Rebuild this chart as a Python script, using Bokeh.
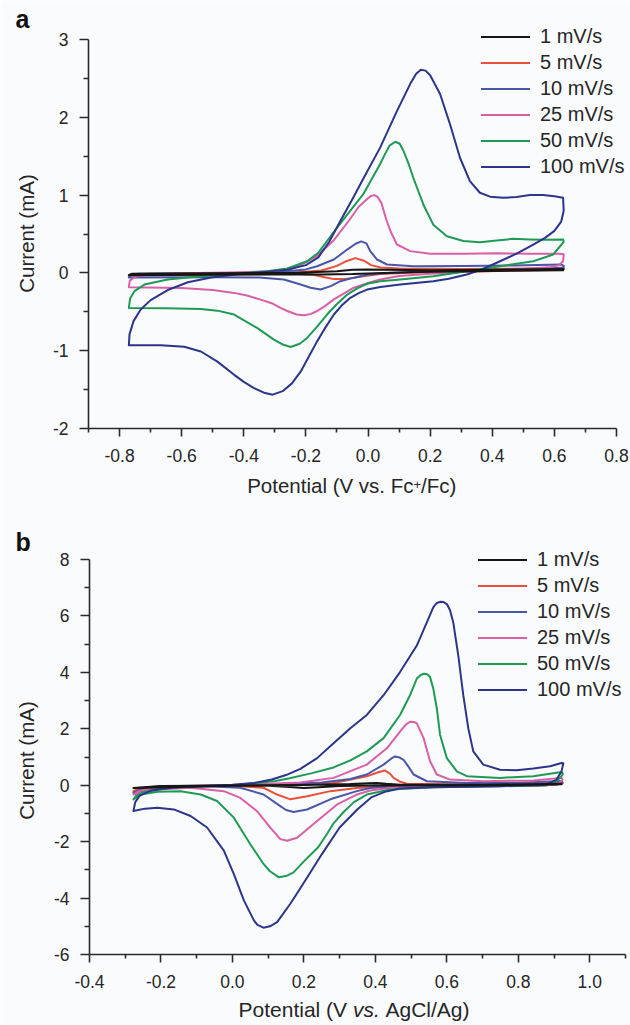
import math
from bokeh.plotting import figure
from bokeh.models import (FixedTicker, Legend, LegendItem, Label, Range1d,
                          PrintfTickFormatter)
from bokeh.layouts import column
from bokeh.embed import file_html
from bokeh.resources import INLINE

# ---------------- data ----------------
RATES = ["1 mV/s", "5 mV/s", "10 mV/s", "25 mV/s", "50 mV/s", "100 mV/s"]
COLORS = ["#161616", "#e8503a", "#4a57a8", "#d95fa6", "#1f9a55", "#2c3589"]

# Panel a  (potential V vs Fc+/Fc, current mA); loops: forward scan then reverse scan
A1_X = [-0.770, -0.760, -0.500, -0.250, -0.100, -0.050, 0.000, 0.050, 0.200, 0.400, 0.630,
        0.628, 0.400, 0.200, 0.050, -0.050, -0.150, -0.400, -0.770]
A1_Y = [-0.030, -0.010, -0.005, 0.000, 0.020, 0.040, 0.045, 0.040, 0.035, 0.040, 0.050,
        0.035, 0.025, 0.015, 0.000, -0.015, -0.020, -0.020, -0.030]

A5_X = [-0.770, -0.760, -0.600, -0.400, -0.250, -0.150, -0.100, -0.070, -0.041, -0.015, 0.010,
        0.040, 0.100, 0.300, 0.500, 0.630,
        0.628, 0.500, 0.300, 0.150, 0.039, -0.010, -0.046, -0.080, -0.110, -0.140, -0.175,
        -0.239, -0.400, -0.600, -0.770]
A5_Y = [-0.030, -0.015, -0.010, -0.005, 0.000, 0.030, 0.090, 0.150, 0.190, 0.160, 0.100,
        0.070, 0.055, 0.050, 0.055, 0.065,
        0.040, 0.030, 0.015, 0.005, -0.013, -0.040, -0.064, -0.080, -0.080, -0.055, -0.025,
        -0.010, -0.020, -0.030, -0.030]

A10_X = [-0.770, -0.765, -0.740, -0.600, -0.400, -0.260, -0.200, -0.164, -0.110, -0.067, -0.040,
         -0.022, -0.005, 0.007, 0.029, 0.061, 0.146, 0.307, 0.468, 0.623, 0.630,
         0.628, 0.500, 0.300, 0.150, 0.050, 0.000, -0.025, -0.060, -0.089, -0.120, -0.153,
         -0.185, -0.217, -0.271, -0.350, -0.500, -0.770]
A10_Y = [-0.060, -0.025, -0.010, -0.005, 0.000, 0.020, 0.045, 0.086, 0.172, 0.300, 0.375,
         0.405, 0.380, 0.280, 0.172, 0.108, 0.086, 0.090, 0.095, 0.108, 0.090,
         0.065, 0.045, 0.030, 0.015, -0.005, -0.020, -0.043, -0.075, -0.107, -0.170, -0.214,
         -0.190, -0.150, -0.085, -0.060, -0.055, -0.060]

A25_X = [-0.770, -0.767, -0.750, -0.700, -0.600, -0.450, -0.320, -0.250, -0.217, -0.164, -0.110,
         -0.060, -0.030, 0.000, 0.010, 0.020, 0.030, 0.043, 0.060, 0.072, 0.093, 0.136, 0.200,
         0.307, 0.414, 0.521, 0.617, 0.630,
         0.628, 0.615, 0.590, 0.500, 0.400, 0.300, 0.200, 0.100, 0.039, 0.000, -0.046, -0.080,
         -0.110, -0.140, -0.164, -0.185, -0.207, -0.230, -0.260, -0.282, -0.310, -0.346, -0.390,
         -0.431, -0.500, -0.600, -0.770]
A25_Y = [-0.184, -0.100, -0.050, -0.020, -0.005, 0.005, 0.020, 0.050, 0.100, 0.220, 0.420,
         0.680, 0.850, 0.960, 0.990, 1.000, 0.980, 0.900, 0.670, 0.540, 0.365, 0.280, 0.245,
         0.245, 0.253, 0.245, 0.245, 0.240,
         0.150, 0.100, 0.075, 0.050, 0.030, 0.010, -0.010, -0.040, -0.085, -0.130, -0.190, -0.270,
         -0.340, -0.430, -0.490, -0.530, -0.545, -0.535, -0.490, -0.450, -0.390, -0.343, -0.290,
         -0.257, -0.220, -0.195, -0.184]

A50_X = [-0.770, -0.766, -0.752, -0.720, -0.645, -0.538, -0.431, -0.324, -0.260, -0.196, -0.160,
         -0.132, -0.100, -0.067, -0.014, 0.039, 0.055, 0.070, 0.088, 0.102, 0.114, 0.130, 0.146,
         0.178, 0.210, 0.254, 0.307, 0.360, 0.414, 0.468, 0.521, 0.575, 0.628,
         0.630, 0.623, 0.596, 0.532, 0.425, 0.318, 0.210, 0.104, 0.039, -0.003, -0.035, -0.067,
         -0.100, -0.132, -0.164, -0.196, -0.220, -0.249, -0.275, -0.303, -0.356, -0.431, -0.485,
         -0.538, -0.650, -0.770]
A50_Y = [-0.450, -0.330, -0.235, -0.150, -0.085, -0.043, -0.013, 0.022, 0.057, 0.150, 0.260,
         0.410, 0.580, 0.750, 1.020, 1.400, 1.530, 1.640, 1.686, 1.660, 1.570, 1.410, 1.220,
         0.880, 0.620, 0.470, 0.410, 0.395, 0.417, 0.438, 0.430, 0.425, 0.430,
         0.400, 0.365, 0.236, 0.150, 0.086, 0.020, -0.043, -0.085, -0.107, -0.140, -0.200, -0.278,
         -0.400, -0.535, -0.690, -0.836, -0.910, -0.952, -0.920, -0.857, -0.710, -0.535, -0.485,
         -0.465, -0.455, -0.450]

A100_X = [-0.770, -0.768, -0.755, -0.732, -0.700, -0.645, -0.580, -0.505, -0.430, -0.345, -0.260,
          -0.200, -0.160, -0.125, -0.090, -0.050, -0.014, 0.039, 0.093, 0.136, 0.155, 0.170,
          0.185, 0.200, 0.232, 0.264, 0.296, 0.328, 0.360, 0.393, 0.435, 0.478, 0.521, 0.564,
          0.600, 0.628,
          0.630, 0.622, 0.600, 0.570, 0.532, 0.480, 0.425, 0.370, 0.318, 0.260, 0.210, 0.104,
          0.040, -0.003, -0.030, -0.057, -0.085, -0.110, -0.140, -0.164, -0.190, -0.217, -0.245,
          -0.275, -0.307, -0.335, -0.367, -0.400, -0.431, -0.485, -0.538, -0.592, -0.667, -0.770]
A100_Y = [-0.930, -0.790, -0.620, -0.470, -0.350, -0.220, -0.120, -0.060, -0.020, 0.010, 0.040,
          0.100, 0.200, 0.400, 0.660, 0.950, 1.220, 1.610, 2.080, 2.430, 2.560, 2.610,
          2.600, 2.540, 2.300, 1.910, 1.480, 1.180, 1.030, 0.980, 0.965, 0.975, 1.000, 1.000,
          0.985, 0.965,
          0.800, 0.660, 0.540, 0.450, 0.365, 0.250, 0.150, 0.050, -0.020, -0.075, -0.107, -0.150,
          -0.180, -0.214, -0.260, -0.320, -0.420, -0.535, -0.720, -0.880, -1.070, -1.270, -1.420,
          -1.520, -1.565, -1.540, -1.480, -1.400, -1.310, -1.140, -1.010, -0.950, -0.930, -0.930]

# Panel b  (potential V vs AgCl/Ag, current mA)
B1_X = [-0.277, -0.200, 0.000, 0.200, 0.330, 0.380, 0.404, 0.430, 0.470, 0.700, 0.921,
        0.921, 0.700, 0.400, 0.300, 0.240, 0.200, 0.160, 0.100, 0.000, -0.277]
B1_Y = [-0.10, -0.03, -0.01, 0.01, 0.04, 0.07, 0.08, 0.05, 0.02, 0.02, 0.05,
        0.03, 0.00, -0.01, -0.03, -0.07, -0.10, -0.06, -0.02, -0.02, -0.10]

B5_X = [-0.277, -0.260, -0.200, 0.000, 0.150, 0.283, 0.376, 0.410, 0.427, 0.440, 0.451,
        0.470, 0.488, 0.600, 0.800, 0.921,
        0.924, 0.900, 0.700, 0.450, 0.348, 0.274, 0.209, 0.162, 0.125, 0.087, 0.000, -0.150,
        -0.277]
B5_Y = [-0.21, -0.10, -0.04, -0.01, 0.02, 0.08, 0.32, 0.47, 0.52, 0.42, 0.26,
        0.12, 0.05, 0.03, 0.04, 0.10,
        0.06, 0.01, -0.02, -0.03, -0.10, -0.21, -0.39, -0.50, -0.33, -0.09, -0.02, -0.05,
        -0.21]

B10_X = [-0.277, -0.250, -0.150, 0.000, 0.150, 0.250, 0.330, 0.376, 0.423, 0.445, 0.455,
         0.468, 0.479, 0.493, 0.507, 0.544, 0.656, 0.800, 0.921,
         0.924, 0.910, 0.850, 0.600, 0.450, 0.386, 0.348, 0.274, 0.209, 0.171, 0.150, 0.134,
         0.087, 0.022, -0.071, -0.210, -0.277]
B10_Y = [-0.27, -0.10, -0.03, 0.00, 0.05, 0.10, 0.22, 0.38, 0.73, 0.95, 1.02,
         0.98, 0.90, 0.65, 0.38, 0.14, 0.08, 0.09, 0.15,
         0.10, 0.03, -0.02, -0.03, -0.05, -0.10, -0.21, -0.50, -0.86, -0.95, -0.88, -0.74,
         -0.33, -0.09, -0.035, -0.07, -0.27]

B25_X = [-0.277, -0.260, -0.220, -0.100, 0.000, 0.100, 0.190, 0.283, 0.376, 0.432, 0.469,
         0.485, 0.497, 0.508, 0.516, 0.535, 0.553, 0.572, 0.609, 0.702, 0.842, 0.921,
         0.924, 0.915, 0.880, 0.750, 0.600, 0.450, 0.386, 0.348, 0.293, 0.237, 0.181, 0.153,
         0.134, 0.106, 0.069, 0.022, -0.024, -0.117, -0.210, -0.277]
B25_Y = [-0.33, -0.20, -0.10, -0.03, 0.00, 0.05, 0.10, 0.26, 0.73, 1.31, 1.90,
         2.15, 2.25, 2.24, 2.19, 1.67, 0.85, 0.38, 0.20, 0.14, 0.17, 0.26,
         0.20, 0.08, 0.00, -0.03, -0.04, -0.08, -0.19, -0.33, -0.68, -1.27, -1.86, -1.97,
         -1.91, -1.50, -0.92, -0.45, -0.21, -0.09, -0.15, -0.33]

B50_X = [-0.277, -0.270, -0.250, -0.200, -0.120, 0.000, 0.069, 0.120, 0.160, 0.220, 0.283,
         0.330, 0.376, 0.423, 0.469, 0.497, 0.516, 0.526, 0.535, 0.545, 0.553, 0.562, 0.572,
         0.581, 0.600, 0.628, 0.656, 0.749, 0.842, 0.921,
         0.925, 0.921, 0.907, 0.879, 0.749, 0.562, 0.441, 0.376, 0.340, 0.311, 0.283, 0.265,
         0.240, 0.200, 0.171, 0.150, 0.129, 0.105, 0.087, 0.050, 0.004, -0.043, -0.089, -0.145,
         -0.210, -0.257, -0.277]
B50_Y = [-0.50, -0.38, -0.25, -0.12, -0.05, 0.00, 0.08, 0.15, 0.25, 0.42, 0.63,
         0.88, 1.20, 1.67, 2.49, 3.19, 3.78, 3.90, 3.95, 3.93, 3.84, 3.43, 2.72,
         1.79, 0.96, 0.49, 0.32, 0.26, 0.32, 0.47,
         0.40, 0.32, 0.15, 0.00, -0.04, -0.07, -0.15, -0.33, -0.60, -0.95, -1.35, -1.72,
         -2.20, -2.70, -3.09, -3.22, -3.26, -3.05, -2.79, -2.09, -1.15, -0.56, -0.33, -0.21,
         -0.235, -0.33, -0.50]

B100_X = [-0.277, -0.272, -0.260, -0.230, -0.170, -0.080, 0.000, 0.060, 0.110, 0.150, 0.190,
          0.237, 0.283, 0.330, 0.376, 0.423, 0.469, 0.516, 0.544, 0.562, 0.571, 0.581, 0.591,
          0.600, 0.609, 0.618, 0.632, 0.646, 0.660, 0.674, 0.702, 0.749, 0.795, 0.842, 0.889,
          0.921,
          0.926, 0.921, 0.907, 0.879, 0.749, 0.562, 0.469, 0.430, 0.390, 0.350, 0.300, 0.250,
          0.210, 0.190, 0.162, 0.125, 0.105, 0.087, 0.070, 0.060, 0.032, 0.004, -0.024, -0.071,
          -0.117, -0.164, -0.210, -0.245, -0.277]
B100_Y = [-0.915, -0.60, -0.38, -0.20, -0.09, -0.03, 0.02, 0.08, 0.20, 0.36, 0.58,
          0.96, 1.49, 2.02, 2.49, 3.19, 4.01, 4.95, 5.77, 6.30, 6.45, 6.50, 6.49,
          6.42, 6.20, 5.77, 4.60, 3.19, 2.02, 1.20, 0.73, 0.55, 0.53, 0.59, 0.67,
          0.79,
          0.78, 0.49, 0.20, 0.02, -0.035, -0.07, -0.12, -0.22, -0.42, -0.85, -1.50, -2.45,
          -3.25, -3.65, -4.20, -4.85, -5.00, -5.05, -4.95, -4.79, -4.08, -3.15, -2.32, -1.50,
          -1.09, -0.857, -0.80, -0.83, -0.915]

A_SERIES = [(A1_X, A1_Y), (A5_X, A5_Y), (A10_X, A10_Y), (A25_X, A25_Y), (A50_X, A50_Y), (A100_X, A100_Y)]
B_SERIES = [(B1_X, B1_Y), (B5_X, B5_Y), (B10_X, B10_Y), (B25_X, B25_Y), (B50_X, B50_Y), (B100_X, B100_Y)]

A_XLIM = (-0.9, 0.8)
A_YLIM = (-2, 3)
A_XTICKS = [-0.8, -0.6, -0.4, -0.2, 0.0, 0.2, 0.4, 0.6, 0.8]
A_XMINOR = [-0.9, -0.7, -0.5, -0.3, -0.1, 0.1, 0.3, 0.5, 0.7]
A_YTICKS = [-2, -1, 0, 1, 2, 3]
A_YMINOR = [-1.5, -0.5, 0.5, 1.5, 2.5]
B_XLIM = (-0.4, 1.1)
B_YLIM = (-6, 8)
B_XTICKS = [-0.4, -0.2, 0.0, 0.2, 0.4, 0.6, 0.8, 1.0]
B_XMINOR = [-0.3, -0.1, 0.1, 0.3, 0.5, 0.7, 0.9, 1.1]
B_YTICKS = [-6, -4, -2, 0, 2, 4, 6, 8]
B_YMINOR = [-5, -3, -1, 1, 3, 5, 7]

FONT = "Liberation Sans"
TXT = "#262626"
BG = "#fafbfd"
ORDER = [1, 2, 3, 4, 5, 0]   # drawing order (1 mV/s on top)
W = 630


class Panel:
    """Figure whose frame fills the canvas; axes are pinned at the given pixel box."""

    def __init__(self, h, box, xlim, ylim):
        left, right, top, bottom = box       # canvas px of the axis box
        self.h = h
        self.sx = (right - left) / (xlim[1] - xlim[0])
        self.sy = (bottom - top) / (ylim[1] - ylim[0])
        self.left, self.bottom = left, bottom
        self.xlim, self.ylim = xlim, ylim
        xr = (self.X(0), self.X(W))
        yr = (self.Y(h), self.Y(0))
        p = figure(width=W, height=h, output_backend="svg", toolbar_location=None,
                   x_range=Range1d(*xr), y_range=Range1d(*yr), min_border=0)
        p.background_fill_color = BG
        p.border_fill_color = BG
        p.outline_line_color = None
        p.grid.visible = False
        self.p = p

    def X(self, px):
        return self.xlim[0] + (px - self.left) / self.sx

    def Y(self, py):
        return self.ylim[0] + (self.bottom - py) / self.sy


def build(panel, series, xt, xm, yt, ym, legend_xy):
    p = panel.p
    for ax in (p.xaxis[0], p.yaxis[0]):
        ax.axis_line_color = "#2a2a2a"
        ax.axis_line_width = 1.6
        ax.major_tick_line_color = "#2a2a2a"
        ax.major_tick_line_width = 1.6
        ax.minor_tick_line_color = "#2a2a2a"
        ax.minor_tick_line_width = 1.6
        ax.major_tick_in = 0
        ax.minor_tick_in = 0
        ax.major_label_text_font = FONT
        ax.major_label_text_font_size = "17.5px"
        ax.major_label_text_color = TXT
    p.xaxis.fixed_location = panel.ylim[0]
    p.yaxis.fixed_location = panel.xlim[0]
    p.xaxis.bounds = panel.xlim
    p.yaxis.bounds = panel.ylim
    p.xaxis.ticker = FixedTicker(ticks=xt, minor_ticks=xm)
    p.yaxis.ticker = FixedTicker(ticks=yt, minor_ticks=ym)
    p.xaxis.formatter = PrintfTickFormatter(format="%.1f")
    p.yaxis.formatter = PrintfTickFormatter(format="%d")
    p.xaxis.major_tick_out = 8
    p.xaxis.minor_tick_out = 4
    p.xaxis.major_label_standoff = 12
    p.yaxis.major_tick_out = 9
    p.yaxis.minor_tick_out = 5
    p.yaxis.major_label_standoff = 11

    rends = [None] * len(series)
    for i in ORDER:
        xs, ys = series[i]
        rends[i] = p.line(xs, ys, line_color=COLORS[i], line_width=2,
                          line_join="round", line_cap="round")
    items = [LegendItem(label=RATES[i], renderers=[rends[i]]) for i in range(len(series))]
    # legend_xy: canvas px of (glyph left, first row centre); rows 23 px + 3 px spacing
    gx, row1 = legend_xy
    box_top = row1 - 11.5
    box_bottom = box_top + 6 * 23 + 5 * 3
    leg = Legend(items=items, location=(gx, panel.h - box_bottom), orientation="vertical",
                 glyph_width=49, glyph_height=21, label_height=21, spacing=3,
                 padding=0, margin=0, label_standoff=10,
                 label_text_font=FONT, label_text_font_size="20px",
                 label_text_color=TXT, background_fill_alpha=0, border_line_alpha=0)
    p.add_layout(leg)


def lab(panel, text, cx, cy, size, color=TXT, **kw):
    panel.p.add_layout(Label(x=panel.X(cx), y=panel.Y(cy), text=text,
                             text_font=FONT, text_font_size=size, text_color=color, **kw))


# ---------------- panel a ----------------
PA = Panel(518, (88, 616, 39, 428), A_XLIM, A_YLIM)
build(PA, A_SERIES, A_XTICKS, A_XMINOR, A_YTICKS, A_YMINOR, (481, 36))
lab(PA, "a", 15, 32, "25px", color="#111111", text_font_style="bold")
lab(PA, "Current (mA)", 25.8, 233, "20.5px", angle=math.pi / 2,
    text_align="center", text_baseline="middle")
lab(PA, "Potential (V vs. Fc", 246.7, 496.7, "20.5px")
lab(PA, "+", 413.0, 488.0, "13px")
lab(PA, "/Fc)", 420.6, 496.7, "20.5px")

# ---------------- panel b ----------------
PB = Panel(507, (89, 625, 41, 436), B_XLIM, B_YLIM)
build(PB, B_SERIES, B_XTICKS, B_XMINOR, B_YTICKS, B_YMINOR, (478, 41))
lab(PB, "b", 15, 37, "25px", color="#111111", text_font_style="bold")
lab(PB, "Current (mA)", 25.8, 242, "20.5px", angle=math.pi / 2,
    text_align="center", text_baseline="middle")
lab(PB, "Potential (V", 238.0, 502, "21px")
lab(PB, "vs.", 352.4, 502, "21px", text_font_style="italic")
lab(PB, "AgCl/Ag)", 385.0, 502, "21px")

layout = column(PA.p, PB.p)
open("out.html", "w").write(file_html(layout, INLINE))
